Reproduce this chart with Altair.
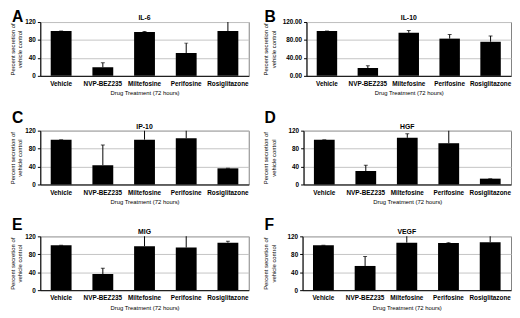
import altair as alt
import pandas as pd

drugs = ["Vehicle", "NVP-BEZ235", "Miltefosine", "Perifosine", "Rosiglitazone"]

il6_vals = [100, 19, 98, 51, 100]
il6_errs = [0, 10, 1, 22, 26]
il10_vals = [100, 17.5, 96, 83, 76]
il10_errs = [0, 5, 5, 9, 13]
ip10_vals = [100, 43, 100, 103, 36]
ip10_errs = [0, 45, 25, 22, 0]
hgf_vals = [100, 30, 104, 92, 13]
hgf_errs = [0, 13, 9, 30, 0]
mig_vals = [100, 36, 98, 95, 106]
mig_errs = [0, 13, 25, 28, 3]
vegf_vals = [100, 54, 106, 105, 107]
vegf_errs = [0, 21, 18, 1, 18]

y_ticks = [0, 40, 80, 120]
FONT = "Liberation Sans"
PLOT_H = 55


def panel(title, letter, vals, errs, width, fmt, title_pad, letter_x, letter_y):
    df = pd.DataFrame({
        "drug": drugs,
        "value": vals,
        "top": [v + e for v, e in zip(vals, errs)],
    })
    x_scale = alt.Scale(paddingInner=0.5, paddingOuter=0.25)
    x_axis = alt.Axis(title="Drug Treatment (72 hours)", labelAngle=0,
                      labelFontSize=6.5, labelFontWeight="bold", labelPadding=5,
                      ticks=False, domainColor="black", titleFontSize=6,
                      titleFontWeight="normal", titlePadding=3, labelColor="black",
                      titleColor="black", grid=False)
    y_scale = alt.Scale(domain=[0, 120], nice=False)
    y_axis = alt.Axis(values=y_ticks, format=fmt, labelOverlap=False,
                      title=["Percent secretion of", "vehicle control"],
                      titleFontSize=6, titleFontWeight="normal", titlePadding=title_pad,
                      labelFontSize=6.5, labelFontWeight="bold", labelPadding=2,
                      tickSize=3, tickColor="black", domainColor="black",
                      grid=True, gridColor="#c4c4c4", labelColor="black",
                      titleColor="black")
    x = alt.X("drug:N", sort=drugs, scale=x_scale, axis=x_axis)
    base = alt.Chart(df)
    bars = base.mark_bar(color="black").encode(
        x=x, y=alt.Y("value:Q", scale=y_scale, axis=y_axis))
    err = base.mark_rule(color="black", strokeWidth=1, clip=True).encode(
        x=x, y=alt.Y("value:Q", scale=y_scale, axis=y_axis), y2="top:Q")
    cap = base.mark_tick(color="black", thickness=1, size=4, clip=True).encode(
        x=x, y=alt.Y("top:Q", scale=y_scale, axis=y_axis))
    lab = alt.Chart(pd.DataFrame({"t": [letter]})).mark_text(
        align="left", baseline="top", fontSize=16, fontWeight="bold",
        font=FONT, color="black").encode(
        text="t:N", x=alt.value(letter_x), y=alt.value(letter_y))
    ttl = alt.Chart(pd.DataFrame({"t": [title]})).mark_text(
        align="center", baseline="alphabetic", fontSize=7, fontWeight="bold",
        font=FONT, color="black").encode(
        text="t:N", x=alt.value(width / 2), y=alt.value(-2))
    return alt.layer(bars, err, cap, lab, ttl).properties(width=width, height=PLOT_H)


pA = panel("IL-6", "A", il6_vals, il6_errs, 213, "d", 2, -29, -13)
pB = panel("IL-10", "B", il10_vals, il10_errs, 209, ".2f", 6, -43, -13)
pC = panel("IP-10", "C", ip10_vals, ip10_errs, 213, "d", 2, -29, -21)
pD = panel("HGF", "D", hgf_vals, hgf_errs, 212, "d", 12, -40, -21)
pE = panel("MIG", "E", mig_vals, mig_errs, 213, "d", 2, -29, -19)
pF = panel("VEGF", "F", vegf_vals, vegf_errs, 213, "d", 11, -39, -19)

row1 = alt.hconcat(pA, pB, spacing=12)
row2 = alt.hconcat(pC, pD, spacing=12)
row3 = alt.hconcat(pE, pF, spacing=12)

chart = alt.vconcat(row1, alt.vconcat(row2, row3, spacing=12), spacing=13).properties(
    padding={"top": -3, "left": 0, "right": 0, "bottom": 0}
).configure(font=FONT).configure_view(stroke="#808080", strokeWidth=1)

chart.save("out.html", embed_options={"renderer": "svg", "actions": False})
